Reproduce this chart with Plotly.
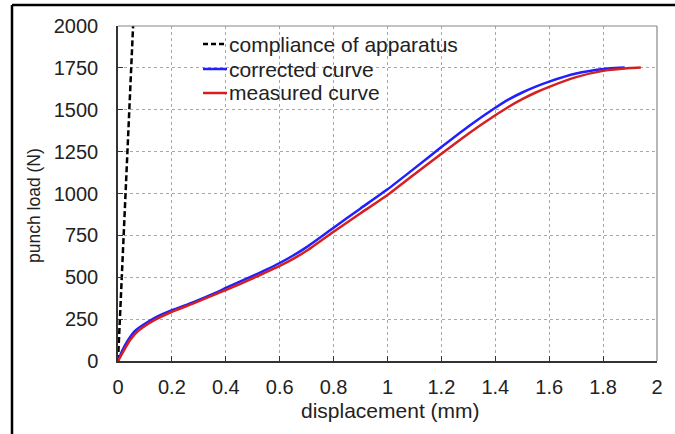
import plotly.graph_objects as go

# Compliance of apparatus (displacement mm, load N)
comp_x = [0, 0.056]
comp_y = [0, 2000]

# Corrected curve
corr_x = [0, 0.015, 0.04, 0.065, 0.1, 0.14, 0.2, 0.28, 0.37, 0.4, 0.45, 0.5, 0.55, 0.6, 0.65, 0.7, 0.8, 0.9,
          1.0, 1.1, 1.2, 1.3, 1.4, 1.45, 1.5, 1.55, 1.6, 1.7, 1.8, 1.86, 1.88]
corr_y = [0, 60, 132, 183, 222, 260, 303, 352, 413, 436, 472, 508, 545, 585, 630, 680, 796, 911,
          1025, 1150, 1277, 1400, 1512, 1562, 1603, 1638, 1668, 1716, 1743, 1751, 1752]

# Measured curve
meas_x = [0, 0.02, 0.045, 0.07, 0.1, 0.14, 0.2, 0.28, 0.37, 0.4, 0.45, 0.5, 0.55, 0.6, 0.65, 0.7, 0.8, 0.9,
          1.0, 1.1, 1.2, 1.3, 1.4, 1.45, 1.5, 1.55, 1.6, 1.7, 1.8, 1.9, 1.94]
meas_y = [0, 58, 125, 173, 209, 248, 294, 344, 404, 424, 458, 494, 530, 568, 610, 658, 772, 882,
          991, 1115, 1237, 1357, 1467, 1518, 1563, 1603, 1637, 1695, 1732, 1749, 1752]

FONT = "Liberation Sans, Arial, sans-serif"
FS = 20

fig = go.Figure()
fig.add_trace(go.Scatter(x=comp_x, y=comp_y, mode="lines", name="compliance of apparatus",
                         line=dict(color="black", width=2.5, dash="6px,3px")))
fig.add_trace(go.Scatter(x=corr_x, y=corr_y, mode="lines", name="corrected curve",
                         line=dict(color="#2020ff", width=2.5, shape="spline", smoothing=0.5)))
fig.add_trace(go.Scatter(x=meas_x, y=meas_y, mode="lines", name="measured curve",
                         line=dict(color="#d42020", width=2.5, shape="spline", smoothing=0.5)))

L, R, T, B = 118, 657, 26, 361
W, H = 675, 434
pw, ph = R - L, B - T

def px(x):
    return (x - L) / pw

def py(y):
    return (B - y) / ph

legend_items = [
    ("compliance of apparatus", "black", "5px,3px", 44),
    ("corrected curve", "#2020ff", "solid", 69),
    ("measured curve", "#d42020", "solid", 93),
]

shapes = [
    # grey top/right frame of plot area
    dict(type="line", xref="paper", yref="paper", x0=0, x1=1, y0=1, y1=1,
         line=dict(color="#888", width=1.2)),
    dict(type="line", xref="paper", yref="paper", x0=1, x1=1, y0=0, y1=1,
         line=dict(color="#888", width=1.2)),
    # outer black frame (top and left)
    dict(type="line", xref="paper", yref="paper", x0=px(12), x1=px(W + 5),
         y0=py(5), y1=py(5), line=dict(color="black", width=2.5)),
    dict(type="line", xref="paper", yref="paper", x0=px(12), x1=px(12),
         y0=py(5), y1=py(H + 5), line=dict(color="black", width=2.5)),
]
annotations = [
    dict(text="punch load (N)", xref="paper", yref="paper", x=px(34), y=py(206),
         textangle=-90, showarrow=False, xanchor="center", yanchor="middle",
         font=dict(size=17.5)),
    dict(text="displacement (mm)", xref="paper", yref="paper", x=px(390), y=py(410),
         showarrow=False, xanchor="center", yanchor="middle", font=dict(size=FS + 1)),
]
for label, col, dash, yy in legend_items:
    shapes.append(dict(type="line", xref="paper", yref="paper", x0=px(203), x1=px(227),
                       y0=py(yy), y1=py(yy), line=dict(color=col, width=2.5, dash=dash)))
    annotations.append(dict(text=label, xref="paper", yref="paper", x=px(227), y=py(yy),
                            showarrow=False, xanchor="left", yanchor="middle",
                            font=dict(size=FS + 1)))

fig.update_layout(
    width=W, height=H,
    margin=dict(l=L, r=W - R, t=T, b=H - B, pad=0),
    paper_bgcolor="white", plot_bgcolor="white",
    font=dict(family=FONT, size=FS, color="#222"),
    showlegend=False,
    xaxis=dict(range=[0, 2], dtick=0.2, tick0=0, showgrid=True, gridcolor="#a8a8a8",
               griddash="dot", gridwidth=1, zeroline=False, showline=True,
               linecolor="#333", linewidth=1.5, ticks="inside", ticklen=5,
               tickcolor="#333", tickwidth=1, ticklabelstandoff=7,
               tickfont=dict(size=FS)),
    yaxis=dict(range=[0, 2000], dtick=250, tick0=0, showgrid=True, gridcolor="#a8a8a8",
               griddash="dot", gridwidth=1, zeroline=False, showline=True,
               linecolor="#333", linewidth=1.5, ticks="inside", ticklen=5,
               tickcolor="#333", tickwidth=1, ticklabelstandoff=14,
               tickfont=dict(size=FS)),
    shapes=shapes,
    annotations=annotations,
)

fig.write_html("out.html")
